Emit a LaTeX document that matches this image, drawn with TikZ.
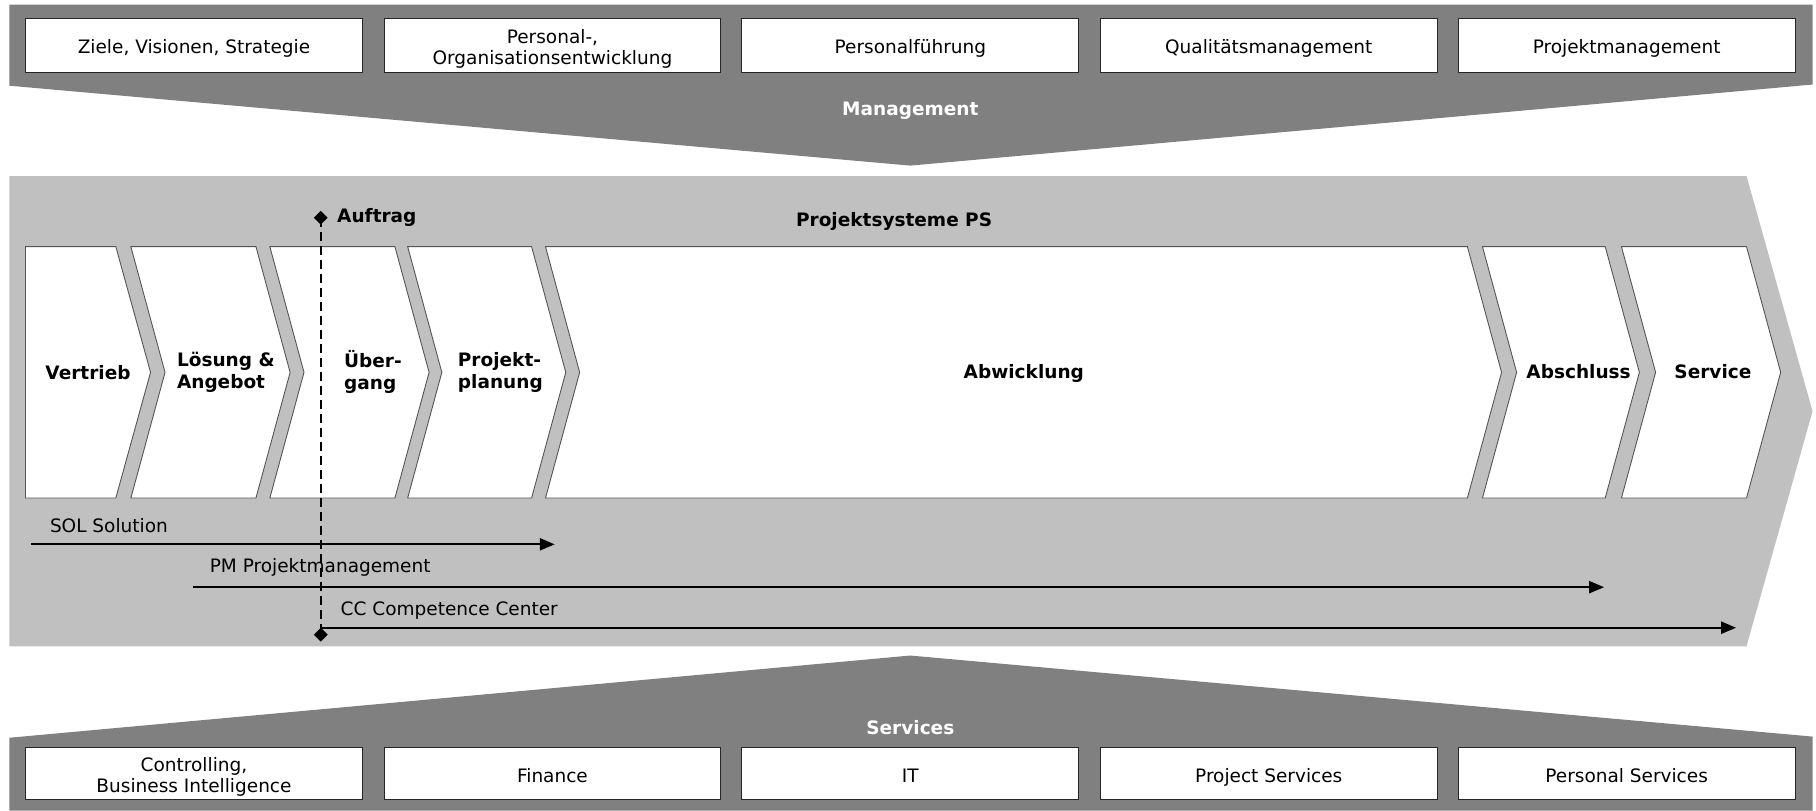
\documentclass[tikz,border=0pt]{standalone}
\usepackage{fontspec}
\setmainfont{DejaVu Sans}
\usetikzlibrary{shapes.geometric,arrows.meta,calc}
\definecolor{bandDark}{HTML}{808080}
\definecolor{bandLight}{HTML}{C0C0C0}
\definecolor{chevLine}{HTML}{555555}
\newcommand{\chevshape}[2]{%
  \draw[chev] (#1,213) -- (#2,213) -- ({#2+29.5},321.5) -- (#2,430) -- (#1,430) -- ({#1+29.5},321.5) -- cycle;}
\begin{document}
\begin{tikzpicture}[x=1.1582pt,y=-1.1582pt,
  txt/.style={font=\fontsize{18.5}{21}\selectfont, inner sep=0pt},
  ctxt/.style={txt, align=center},
  stxt/.style={txt, text height=13.5pt, text depth=0pt},
  btxt/.style={font=\fontsize{18.5}{22}\selectfont\bfseries, inner sep=0pt},
  wlabel/.style={btxt, text=white},
  cbox/.style={draw=black!85, line width=0.9pt, fill=white, minimum width=337pt, inner sep=0pt},
  topbox/.style={cbox, minimum height=54.4pt},
  botbox/.style={cbox, minimum height=52pt},
  chev/.style={draw=chevLine, line width=0.9pt, fill=white},
  flow/.style={line width=2.3pt, -{Triangle[length=15pt,width=12pt]}},
  dashline/.style={line width=2.2pt, dash pattern=on 9pt off 5pt},
  marker/.style={diamond, fill=black, inner sep=0pt, minimum size=14pt}
]
\useasboundingbox (0,0) rectangle (1568,700);
% management band
\fill[bandDark] (8,4) -- (1565,4) -- (1565,73) -- (786,143) -- (8,74) -- cycle;
\node[wlabel] (mgmt) at (786,95.5) {Management};
\node[topbox] (t1) at (167.5,39.5) {};
\node[topbox] (t2) at (477,39.5) {};
\node[topbox] (t3) at (786,39.5) {};
\node[topbox] (t4) at (1095.5,39.5) {};
\node[topbox] (t5) at (1404.5,39.5) {};
\node[stxt] (t1t) at ($(t1)+(0,1)$) {Ziele, Visionen, Strategie};
\node[ctxt] (t2t) at ($(t2)+(0,2.5)$) {Personal-,\\Organisationsentwicklung};
\node[stxt] (t3t) at ($(t3)+(0,1)$) {Personalführung};
\node[stxt] (t4t) at ($(t4)+(0,1)$) {Qualitätsmanagement};
\node[stxt] (t5t) at ($(t5)+(0,1)$) {Projektmanagement};
% project systems band
\fill[bandLight] (8,152) -- (1508,152) -- (1565,355) -- (1508,558) -- (8,558) -- cycle;
\node[btxt] (ps) at (772,191) {Projektsysteme PS};
% chevrons
\draw[chev] (22,213) -- (100,213) -- (130,321.5) -- (100,430) -- (22,430) -- cycle;
\chevshape{113}{221}
\chevshape{233}{341}
\chevshape{352}{459}
\chevshape{471}{1267}
\chevshape{1280}{1386}
\chevshape{1400}{1508}
\node[btxt] (vertrieb) at (76,321.5) {Vertrieb};
\node[btxt, align=left] (loesung) at (195,321.5) {Lösung \&\\Angebot};
\node[btxt, align=left] (uebergang) at (322,321.5) {Über-\\gang};
\node[btxt, align=left] (planung) at (432,321.5) {Projekt-\\planung};
\node[btxt] (abwicklung) at (884,322.5) {Abwicklung};
\node[btxt] (abschluss) at (1363,320.5) {Abschluss};
\node[btxt] (service) at (1479,320.5) {Service};
% Auftrag marker and dashed line
\node[marker] (auftragmark) at (277,188) {};
\node[btxt, anchor=west] (auftrag) at (291,188) {Auftrag};
\node[marker] (ccmark) at (277,548) {};
\draw[dashline] (auftragmark.center) -- (ccmark.center);
% flows
\coordinate (solA) at (27,470);
\coordinate (solB) at (479,470);
\coordinate (pmA) at (167,507);
\coordinate (pmB) at (1385,507);
\coordinate (ccA) at (277,542);
\coordinate (ccB) at (1499,542);
\draw[flow] (solA) -- (solB);
\draw[flow] (pmA) -- (pmB);
\draw[flow] (ccA) -- (ccB);
\node[txt, anchor=west] (sol) at (43,454) {SOL Solution};
\node[txt, anchor=west] (pm) at (181,490) {PM Projektmanagement};
\node[txt, anchor=west] (cc) at (294,527) {CC Competence Center};
% services band
\fill[bandDark] (8,637) -- (786,566) -- (1565,636) -- (1565,700) -- (8,700) -- cycle;
\node[wlabel] (services) at (786,628) {Services};
\node[botbox] (b1) at (167.5,667.5) {};
\node[botbox] (b2) at (477,667.5) {};
\node[botbox] (b3) at (786,667.5) {};
\node[botbox] (b4) at (1095.5,667.5) {};
\node[botbox] (b5) at (1404.5,667.5) {};
\node[ctxt] (b1t) at ($(b1)+(0,3)$) {Controlling,\\Business Intelligence};
\node[stxt] (b2t) at ($(b2)+(0,2.5)$) {Finance};
\node[stxt] (b3t) at ($(b3)+(0,2.5)$) {IT};
\node[stxt] (b4t) at ($(b4)+(0,2.5)$) {Project Services};
\node[stxt] (b5t) at ($(b5)+(0,2.5)$) {Personal Services};
\end{tikzpicture}
\end{document}
